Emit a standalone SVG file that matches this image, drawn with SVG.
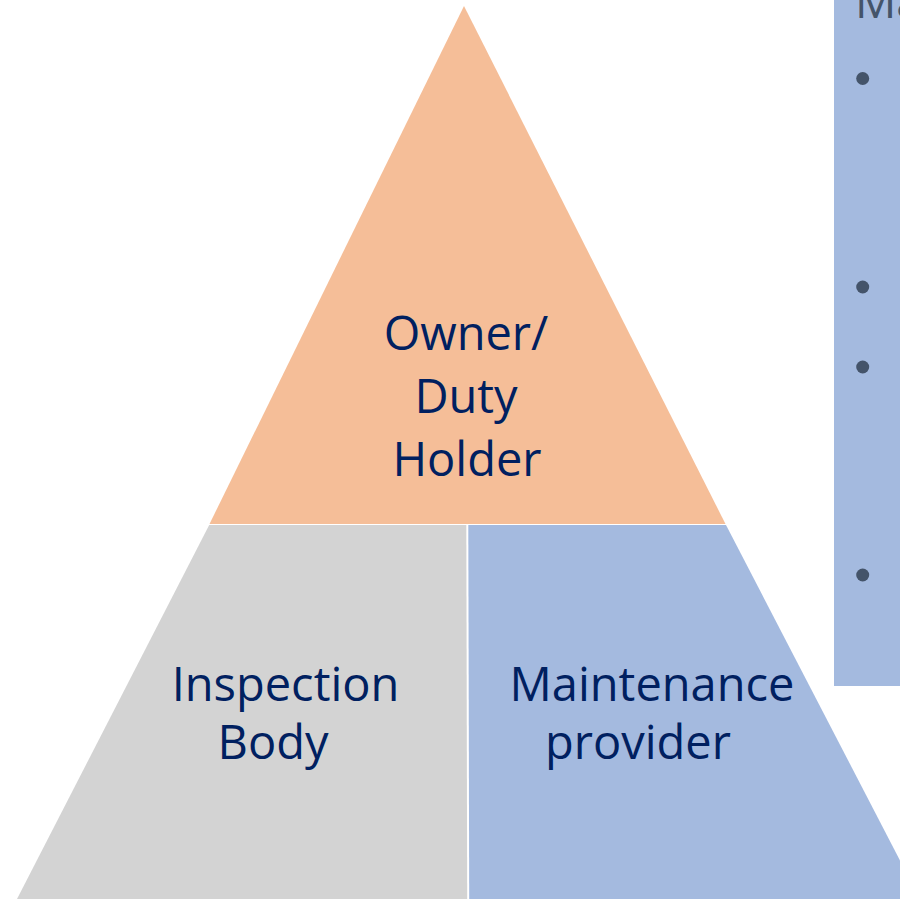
<svg xmlns="http://www.w3.org/2000/svg" width="900" height="899" viewBox="0 0 900 899">
  <style>
    .label { font-family: "Open Sans", "Noto Sans", "Liberation Sans", sans-serif; font-size: 47px; fill: #002060; text-anchor: middle; }
    .side { font-family: "Open Sans", "Noto Sans", "Liberation Sans", sans-serif; font-size: 46px; fill: #44546A; }
    .bullet { fill: #44546A; }
  </style>
  <rect width="900" height="899" fill="#FFFFFF"/>

  <!-- Side panel with bullet list -->
  <g id="side-panel">
    <rect x="834" y="-2" width="70" height="688" fill="#A4BADF"/>
    <text class="side" x="855" y="18">Ma</text>
    <circle class="bullet" cx="862.7" cy="78.5" r="6.5"/>
    <circle class="bullet" cx="862.7" cy="287" r="6.5"/>
    <circle class="bullet" cx="862.7" cy="367" r="6.5"/>
    <circle class="bullet" cx="862.7" cy="575" r="6.5"/>
  </g>

  <!-- Pyramid top: owner / duty holder -->
  <g id="owner">
    <polygon points="464,6 209.5,524 725.5,524" fill="#F5BE98"/>
    <text class="label" x="466" y="350">Owner/</text>
    <text class="label" x="466" y="413">Duty</text>
    <text class="label" x="467" y="476">Holder</text>
  </g>

  <!-- Pyramid base left: inspection body -->
  <g id="inspection-body">
    <polygon points="209.2,525 466.3,525 467.2,899 17,899" fill="#D3D3D3"/>
    <text class="label" x="285.5" y="701">Inspection</text>
    <text class="label" x="273" y="759">Body</text>
  </g>

  <!-- Pyramid base right: maintenance provider -->
  <g id="maintenance-provider">
    <polygon points="468.3,525 726,525 920,899 469.2,899" fill="#A4BADF"/>
    <text class="label" x="652" y="701">Maintenance</text>
    <text class="label" x="638" y="759">provider</text>
  </g>
</svg>
